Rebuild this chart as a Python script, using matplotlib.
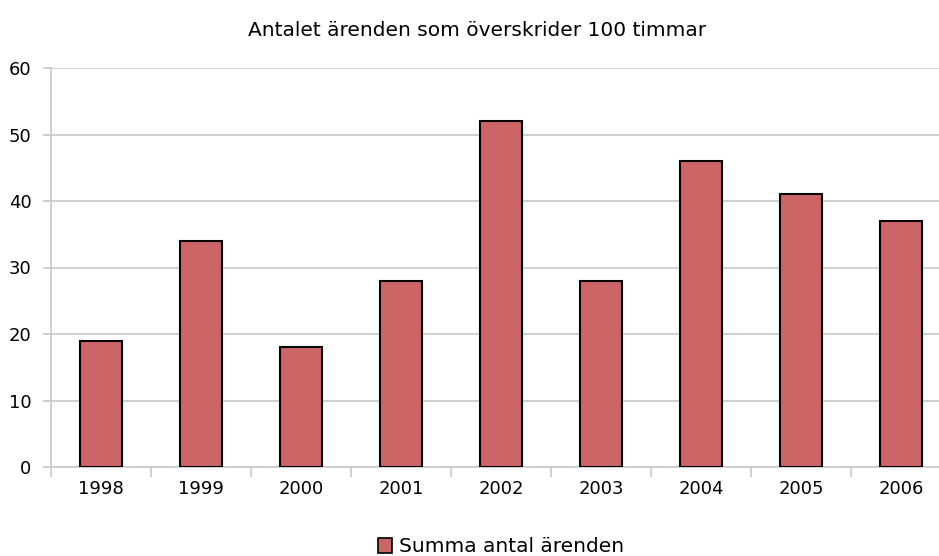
import numpy as np
import matplotlib.pyplot as plt
from matplotlib.patches import Patch

# data
years = ['1998', '1999', '2000', '2001', '2002', '2003', '2004', '2005', '2006']
counts = [19, 34, 18, 28, 52, 28, 46, 41, 37]

title = 'Antalet ärenden som överskrider 100 timmar'
series_name = 'Summa antal ärenden'

bar_color = '#CC6666'
grid_color = '#C8C8C8'

fig = plt.figure(figsize=(9.39, 5.56), dpi=100)
# axes runs slightly past the right edge, like the cropped original
ax = fig.add_axes([51 / 939, 89 / 556, 900 / 939, 399 / 556])

x = np.arange(len(years))
ax.bar(x, counts, width=0.42, color=bar_color, edgecolor='black',
       linewidth=1.5, zorder=3)

ax.set_xlim(-0.5, len(years) - 0.5)
ax.set_ylim(0, 60)

# y axis
ax.set_yticks(range(0, 61, 10))
ax.yaxis.grid(True, color=grid_color, linewidth=1.2, zorder=0)
ax.tick_params(axis='y', length=6, width=1.2, color=grid_color,
               labelsize=13, pad=8)

# x axis: labels at bar centres, ticks at category boundaries
ax.set_xticks(x)
ax.set_xticklabels(years)
ax.set_xticks(np.arange(len(years) + 1) - 0.5, minor=True)
ax.tick_params(axis='x', which='major', length=0, labelsize=13, pad=9)
ax.tick_params(axis='x', which='minor', length=7, width=1.2, color=grid_color)

for side in ['top', 'right']:
    ax.spines[side].set_visible(False)
for side in ['left', 'bottom']:
    ax.spines[side].set_color(grid_color)
    ax.spines[side].set_linewidth(1.2)

fig.text(477 / 939, 1 - 31 / 556, title, ha='center', va='center',
         fontsize=14.5)

handle = Patch(facecolor=bar_color, edgecolor='black', linewidth=1.2)
fig.legend([handle], [series_name], loc='center',
           bbox_to_anchor=(501 / 939, 1 - 547 / 556), frameon=False,
           fontsize=14.5, handlelength=0.7, handleheight=0.7,
           handletextpad=0.3, borderpad=0)

fig.savefig('out.png', dpi=100)
